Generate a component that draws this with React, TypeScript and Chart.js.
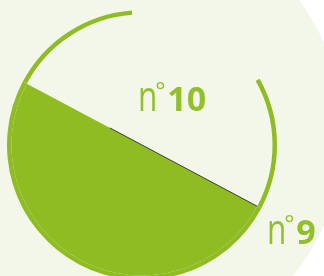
import React, { useEffect, useRef } from "react";
import { Chart, registerables } from "chart.js";

Chart.register(...registerables);

// Data
const categories = ["n°9", "n°10"];
const labelPrefix = ["n", "n"];
const labelNumbers = ["9", "10"];
const shareValues = [50, 50]; // filled half / empty half
const ringArcs = [180, 57.7, 64.9, 57.4]; // outline ring pieces (degrees)
const ringVisible = [true, true, false, true];

const GREEN = "#8fbc23";
const TEXT_GREEN = "#92bf2a";
const PALE = "#f3f7ea";

export default function App() {
  const ref = useRef<HTMLCanvasElement>(null);

  useEffect(() => {
    const canvas = ref.current;
    if (!canvas) return;

    const drawLabel = (ctx: CanvasRenderingContext2D, prefix: string, num: string, x: number, base: number) => {
      ctx.save();
      ctx.fillStyle = TEXT_GREEN;
      ctx.textBaseline = "alphabetic";
      ctx.textAlign = "left";
      // "n" (narrow)
      ctx.save();
      ctx.translate(x, base);
      ctx.scale(0.75, 1);
      ctx.font = "500 42px 'Open Sans'";
      ctx.fillText(prefix, 0, 0);
      const nW = ctx.measureText(prefix).width * 0.75;
      ctx.restore();
      // degree sign
      ctx.font = "400 24px 'Open Sans'";
      ctx.fillText("°", x + nW - 2, base - 12);
      // number
      ctx.font = "700 34px 'Open Sans'";
      ctx.fillText(num, x + nW + 10, base);
      ctx.restore();
    };

    const overlay = {
      id: "overlay",
      afterDatasetsDraw(chart: any) {
        const ctx = chart.ctx as CanvasRenderingContext2D;
        const fill = chart.getDatasetMeta(1).data[0];
        const ring = chart.getDatasetMeta(0).data[0];
        const cx = fill.x;
        const cy = fill.y;
        const r = fill.outerRadius;
        const R = ring.outerRadius;
        const a = fill.startAngle;
        // thin dark seam along the chord
        ctx.save();
        ctx.strokeStyle = "rgba(35,35,35,0.85)";
        ctx.lineWidth = 1;
        ctx.beginPath();
        ctx.moveTo(cx + Math.cos(a) * r, cy + Math.sin(a) * r);
        ctx.lineTo(cx - Math.cos(a) * R * 0.27, cy - Math.sin(a) * R * 0.27);
        ctx.stroke();
        ctx.restore();
        // labels
        drawLabel(ctx, labelPrefix[1], labelNumbers[1], cx - 4, cy - 34);
        drawLabel(ctx, labelPrefix[0], labelNumbers[0], cx + 125, cy + 99);
      },
    };

    const chart = new Chart(canvas, {
      type: "doughnut",
      data: {
        labels: categories,
        datasets: [
          {
            data: ringArcs,
            backgroundColor: ringVisible.map((v) => (v ? GREEN : "rgba(0,0,0,0)")),
            borderWidth: 0,
            hoverBorderWidth: 0,
            hoverOffset: 0,
            offset: 0,
            weight: 4.5,
          } as any,
          {
            data: shareValues,
            backgroundColor: [GREEN, "rgba(0,0,0,0)"],
            borderWidth: 0,
            hoverBorderWidth: 0,
            hoverOffset: 0,
            offset: 0,
            weight: 130.5,
          } as any,
        ],
      },
      options: {
        animation: false,
        responsive: false,
        events: [],
        cutout: 0,
        rotation: 118,
        layout: { padding: { left: 7, top: 10, right: 47, bottom: 10 } },
        plugins: {
          legend: { display: false },
          tooltip: { enabled: false },
        },
      } as any,
      plugins: [overlay],
    });

    return () => chart.destroy();
  }, []);

  return (
    <div
      style={{
        position: "fixed",
        left: 0,
        top: 0,
        width: 324,
        height: 276,
        overflow: "hidden",
        background: "#ffffff",
      }}
    >
      <div
        style={{
          position: "absolute",
          left: 116 - 227,
          top: 134 - 227,
          width: 454,
          height: 454,
          borderRadius: "50%",
          background: PALE,
        }}
      />
      <canvas
        ref={ref}
        width={324}
        height={290}
        style={{ position: "absolute", left: 0, top: 0, width: 324, height: 290 }}
      />
    </div>
  );
}
